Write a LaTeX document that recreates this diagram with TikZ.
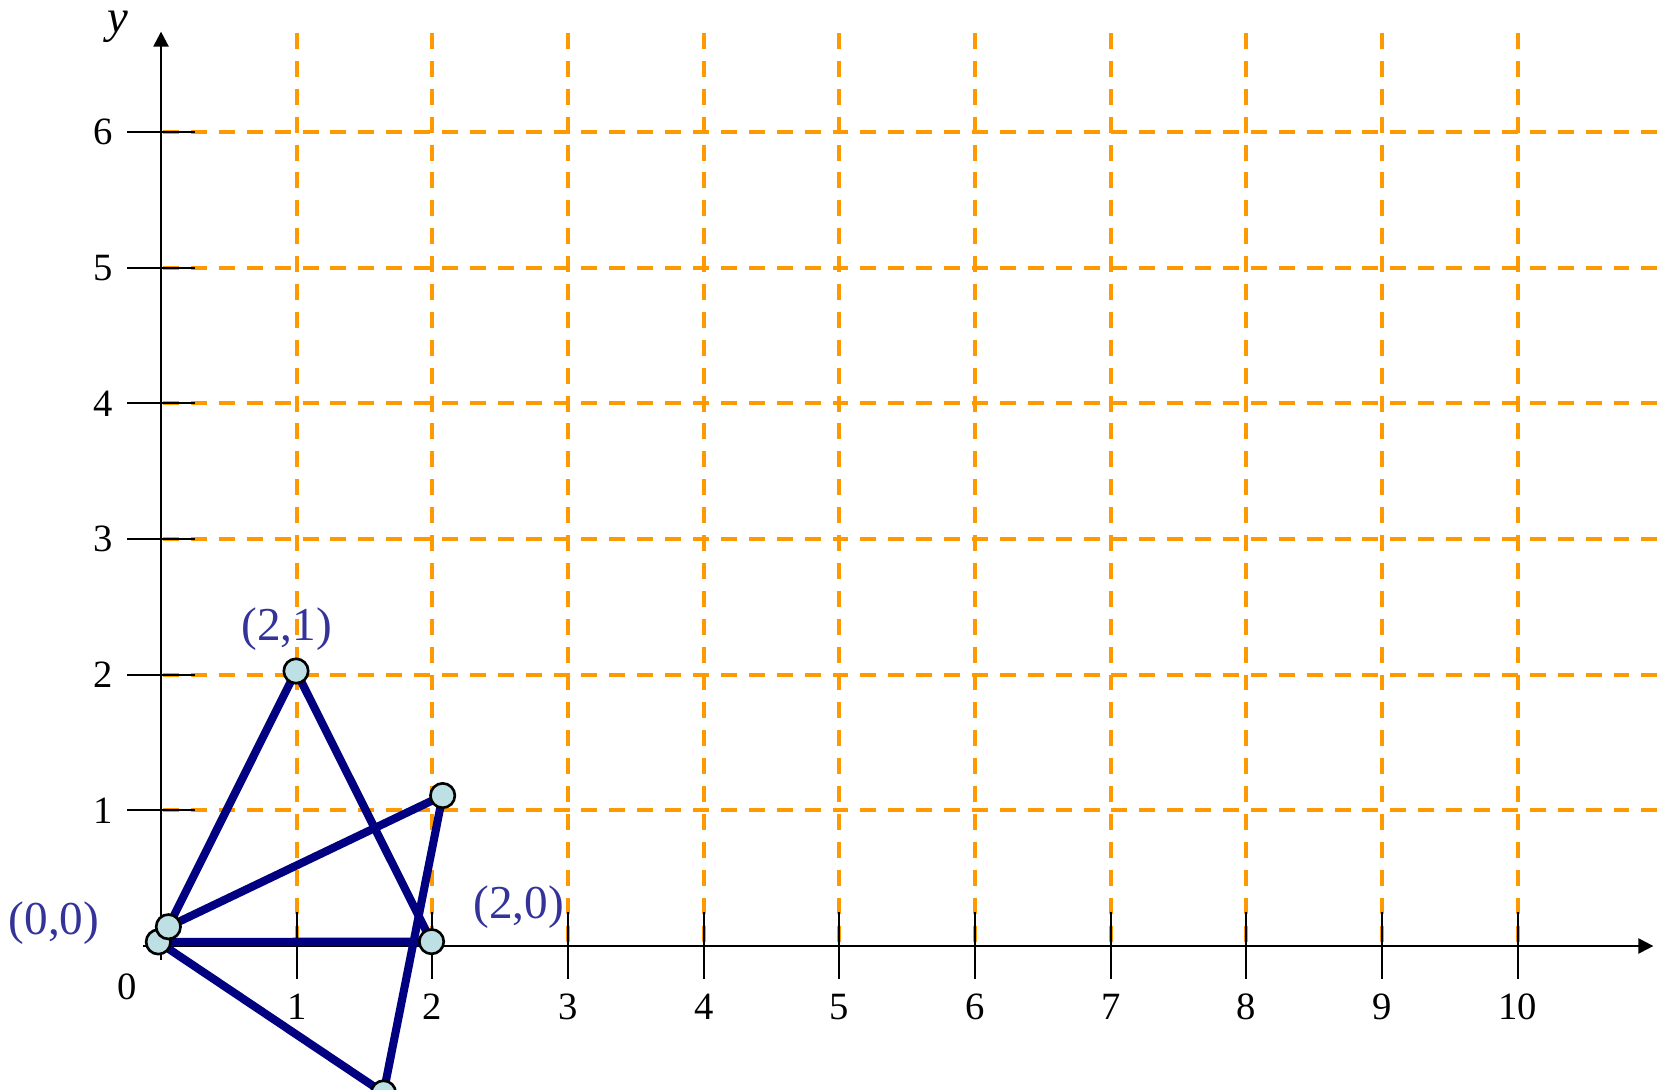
\documentclass[tikz,border=0pt]{standalone}
\usepackage{fontspec}
\setmainfont{Liberation Serif}
\usetikzlibrary{arrows.meta}
\definecolor{gridorange}{RGB}{255,153,0}
\definecolor{edgenavy}{RGB}{0,0,128}
\definecolor{dotfill}{RGB}{188,224,227}
\definecolor{labblue}{RGB}{51,51,153}
\pgfdeclarelayer{bg}
\pgfdeclarelayer{edgelayer}
\pgfsetlayers{bg,edgelayer,main}
\begin{document}
\begin{tikzpicture}[x=1cm,y=1cm,
  gridline/.style={gridorange, line width=0.84pt, dash pattern=on 3.35pt off 2.5pt},
  axisline/.style={black, line width=0.5pt},
  tickline/.style={black, line width=0.45pt},
  axisnum/.style={font=\fontsize{8.1}{9}\selectfont, inner sep=0pt},
  ptlabel/.style={font=\fontsize{9.9}{11}\selectfont, text=labblue, inner sep=0pt},
  ptdot/.style={circle, draw=black, line width=0.55pt, fill=dotfill, minimum size=0.18cm, inner sep=0pt},
  blueline/.style={edgenavy, line width=1.7pt, line cap=round}]
\useasboundingbox (-1.187,-1.061) rectangle (11.049,6.973);

\begin{pgfonlayer}{bg}
  \foreach \i in {1,...,6} \draw[gridline] (0.015,\i) -- (11.05,\i);
  \foreach \i in {1,...,10} \draw[gridline] (\i,6.73) -- (\i,0);
  \draw[axisline,-{Triangle[length=0.11cm,width=0.11cm]}] (-0.13,0) -- (11.0,0);
  \draw[axisline,-{Triangle[length=0.11cm,width=0.11cm]}] (0,-0.1) -- (0,6.74);
  \foreach \i in {1,...,10} \draw[tickline] (\i,0.25) -- (\i,-0.24);
  \foreach \i in {1,...,6} \draw[tickline] (-0.25,\i) -- (0.25,\i);
\end{pgfonlayer}

\foreach \i in {1,...,10} \node[axisnum] (xl\i) at (\i,-0.45) {\i};
\foreach \i in {1,...,6} \node[axisnum] (yl\i) at (-0.43,\i) {\i};
\node[axisnum] (zero) at (-0.253,-0.30) {0};
\node[font=\fontsize{9.8}{11}\selectfont\itshape, inner sep=0pt] (ylab) at (-0.317,6.775) {y};

\node[ptdot] (A) at (-0.02,0.03) {};
\node[ptdot] (B) at (0.054,0.142) {};
\node[ptdot] (T) at (0.995,2.027) {};
\node[ptdot] (C) at (1.994,0.032) {};
\node[ptdot] (R) at (2.076,1.109) {};
\node[ptdot] (D) at (1.64,-1.083) {};

\begin{pgfonlayer}{edgelayer}
  \draw[blueline] (B.center) -- (T.center);
  \draw[blueline] (T.center) -- (C.center);
  \draw[blueline] (A.center) -- (C.center);
  \draw[blueline] (B.center) -- (R.center);
  \draw[blueline] (R.center) -- (D.center);
  \draw[blueline] (D.center) -- (A.center);
\end{pgfonlayer}

\node[ptlabel] (l21) at (0.926,2.336) {(2,1)};
\node[ptlabel] (l00) at (-0.789,0.17) {(0,0)};
\node[ptlabel] (l20) at (2.635,0.284) {(2,0)};
\end{tikzpicture}
\end{document}
